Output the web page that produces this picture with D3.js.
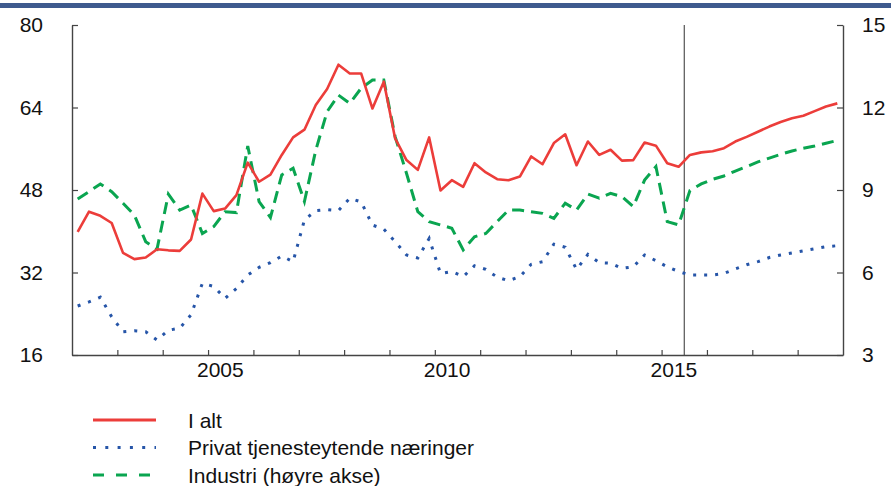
<!DOCTYPE html>
<html>
<head>
<meta charset="utf-8">
<script src="https://cdn.jsdelivr.net/npm/d3@7"></script>
<style>
  html, body { margin: 0; padding: 0; background: #fff; }
  svg { display: block; font-family: "Liberation Sans", Arial, sans-serif; }
</style>
</head>
<body>
<svg id="chart" width="891" height="486"></svg>
<script>
// Quarterly data 2002Q1 – 2018Q4
const startYear = 2002;
const iAlt = [39.9, 43.8, 43.0, 41.6, 35.8, 34.6, 34.9, 36.5, 36.3, 36.2, 38.4, 47.3,
  43.9, 44.4, 47.0, 53.3, 49.6, 51.0, 54.8, 58.2, 59.7, 64.5, 67.6, 72.3,
  70.6, 70.6, 63.8, 69.0, 58.0, 53.8, 51.9, 58.2, 47.9, 49.9, 48.6, 53.2,
  51.4, 50.1, 49.9, 50.6, 54.5, 53.0, 57.1, 58.8, 52.8, 57.4, 54.8, 55.8,
  53.7, 53.8, 57.2, 56.6, 53.2, 52.5, 54.8, 55.3, 55.5, 56.1, 57.4, 58.3,
  59.3, 60.3, 61.2, 61.9, 62.4, 63.3, 64.2, 64.8];
const privat = [25.5, 26.3, 27.2, 23.4, 20.5, 20.7, 20.5, 18.9, 20.8, 21.2, 23.8, 29.9,
  29.3, 27.0, 28.9, 31.5, 33.0, 33.9, 35.2, 34.1, 42.2, 44.0, 44.2, 44.0,
  46.4, 45.7, 41.2, 40.4, 38.0, 35.4, 34.8, 38.6, 31.8, 32.2, 31.2, 33.3,
  32.6, 31.1, 30.4, 31.2, 33.6, 34.1, 37.5, 36.9, 32.6, 35.5, 33.9, 33.8,
  32.8, 33.1, 35.4, 34.3, 33.1, 32.2, 31.5, 31.5, 31.5, 31.8, 32.7, 33.5,
  34.1, 34.9, 35.4, 35.8, 36.2, 36.6, 37.0, 37.2];
const industri = [8.67, 8.94, 9.22, 8.94, 8.52, 8.09, 7.12, 6.85, 8.85, 8.27, 8.45, 7.42,
  7.67, 8.21, 8.18, 10.6, 8.58, 8.0, 9.55, 9.79, 8.58, 10.45, 11.85, 12.45,
  12.15, 12.7, 13.0, 13.0, 10.94, 9.61, 8.21, 7.85, 7.73, 7.61, 6.82, 7.3,
  7.42, 7.85, 8.27, 8.27, 8.21, 8.15, 7.97, 8.52, 8.27, 8.85, 8.7, 8.88,
  8.76, 8.4, 9.36, 9.85, 7.85, 7.73, 8.98, 9.22, 9.39, 9.51, 9.69, 9.85,
  10.02, 10.16, 10.3, 10.42, 10.52, 10.6, 10.7, 10.8];
const yearTicks = d3.range(2002, 2020);
const yearLabels = [2005, 2010, 2015];
const leftTicks = [16, 32, 48, 64, 80];
const rightTicks = [3, 6, 9, 12, 15];
const forecastStart = 2015.5;
const legendItems = ["I alt", "Privat tjenesteytende næringer", "Industri (høyre akse)"];

const svg = d3.select("#chart");
const L = 72, R = 843, T = 25, B = 355;

const x = d3.scaleLinear().domain([2002, 2019]).range([L, R]);
const yL = d3.scaleLinear().domain([16, 80]).range([B, T]);
const yR = d3.scaleLinear().domain([3, 15]).range([B, T]);
const t = i => startYear + (i + 0.5) / 4;

// top band
svg.append("rect").attr("x", 0).attr("y", 3).attr("width", 891).attr("height", 5).attr("fill", "#3e5a8e");

const axisColor = "#444";

// left axis
const gL = svg.append("g").attr("transform", `translate(${L},0)`)
  .call(d3.axisLeft(yL).tickValues(leftTicks).tickSizeInner(-6).tickSizeOuter(0).tickPadding(29).tickFormat(d3.format("d")));
// right axis
const gR = svg.append("g").attr("transform", `translate(${R},0)`)
  .call(d3.axisRight(yR).tickValues(rightTicks).tickSizeInner(-6).tickSizeOuter(0).tickPadding(19).tickFormat(d3.format("d")));
// bottom axis (ticks)
const gB = svg.append("g").attr("transform", `translate(0,${B})`)
  .call(d3.axisBottom(x).tickValues(yearTicks.slice(1, -1)).tickSizeInner(-5).tickSizeOuter(0).tickFormat(""));
// bottom labels
const gBL = svg.append("g").attr("transform", `translate(0,${B})`)
  .call(d3.axisBottom(x).tickValues(yearLabels.map(d => d + 0.26)).tickSize(0).tickPadding(7).tickFormat(d => Math.floor(d)));
gBL.select(".domain").remove();

[gL, gR, gB].forEach(g => {
  g.select(".domain").attr("stroke", axisColor).attr("stroke-width", 1.4);
  g.selectAll(".tick line").attr("stroke", axisColor).attr("stroke-width", 1.2);
});
[gL, gR, gBL].forEach(g => {
  g.selectAll(".tick text").attr("fill", "#111").style("font-size", "21px").style("font-family", "'Liberation Sans', Arial, sans-serif");
});

// forecast divider
svg.append("line").attr("x1", x(forecastStart)).attr("x2", x(forecastStart))
  .attr("y1", T).attr("y2", B).attr("stroke", "#444").attr("stroke-width", 1.1);

const lineL = d3.line().x((d, i) => x(t(i))).y(d => yL(d));
const lineR = d3.line().x((d, i) => x(t(i))).y(d => yR(d));

const red = "#ec3d3a", blue = "#2655a8", green = "#0aa550";

svg.append("path").datum(privat).attr("d", lineL).attr("fill", "none")
  .attr("stroke", blue).attr("stroke-width", 3).attr("stroke-dasharray", "3,8");
svg.append("path").datum(industri).attr("d", lineR).attr("fill", "none")
  .attr("stroke", green).attr("stroke-width", 3).attr("stroke-dasharray", "12,7");
svg.append("path").datum(iAlt).attr("d", lineL).attr("fill", "none")
  .attr("stroke", red).attr("stroke-width", 2.6).attr("stroke-linejoin", "round");

// legend
const styles = [
  {stroke: red, dash: null, w: 3},
  {stroke: blue, dash: "3,9.3", w: 3},
  {stroke: green, dash: "11,12", w: 3}
];
const lg = svg.append("g");
legendItems.forEach((name, k) => {
  const yy = 420 + k * 27.5;
  const s = styles[k];
  const ln = lg.append("line").attr("x1", 93).attr("x2", 156).attr("y1", yy).attr("y2", yy)
    .attr("stroke", s.stroke).attr("stroke-width", s.w);
  if (s.dash) ln.attr("stroke-dasharray", s.dash);
  lg.append("text").attr("x", 188).attr("y", yy).attr("dy", "0.36em")
    .attr("fill", "#111").style("font-size", "21px").text(name);
});
</script>
</body>
</html>
